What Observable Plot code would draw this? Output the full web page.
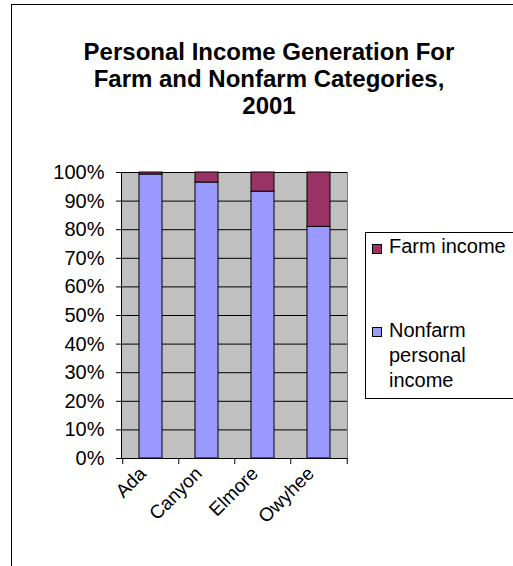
<!DOCTYPE html>
<html>
<head>
<meta charset="utf-8">
<script src="https://cdn.jsdelivr.net/npm/d3@7"></script>
<script src="https://cdn.jsdelivr.net/npm/@observablehq/plot@0.6"></script>
<style>
  html, body { margin: 0; padding: 0; background: #fff; overflow: hidden; }
  #wrap { position: relative; width: 513px; height: 566px; overflow: hidden; font-family: Arial, "Liberation Sans", sans-serif; }
  #frame { position: absolute; left: 11px; top: 4px; width: 600px; height: 700px; border-left: 1px solid #000; border-top: 1px solid #000; box-sizing: border-box; }
  #title { position: absolute; left: 19px; width: 500px; top: 38px; text-align: center; font-weight: bold; font-size: 24px; line-height: 27px; color: #000; }
  #legend { position: absolute; left: 365px; top: 232px; width: 300px; height: 167px; border: 1px solid #000; box-sizing: border-box; background: #fff; font-size: 20px; color: #000; }
  .item { position: absolute; left: 6px; display: flex; }
  .sw { width: 8px; height: 8px; border: 1px solid #000; margin-right: 7px; flex: none; }
  .lab { line-height: 25px; }
  #chart { position: absolute; left: 0; top: 0; }
</style>
</head>
<body>
<div id="wrap">
  <div id="frame"></div>
  <div id="title">Personal Income Generation For<br>Farm and Nonfarm Categories,<br>2001</div>
  <div id="chart"></div>
  <div id="legend"></div>
</div>
<script>
const categories = ["Ada", "Canyon", "Elmore", "Owyhee"];
const nonfarm = [99.3, 96.5, 93.3, 81.0];
const farm = [0.7, 3.5, 6.7, 19.0];
const seriesNames = ["Nonfarm personal income", "Farm income"];
const seriesColors = ["#9999FF", "#993366"];
const yTicks = [0, 10, 20, 30, 40, 50, 60, 70, 80, 90, 100];

const rows = [];
categories.forEach((c, i) => {
  rows.push({county: c, series: seriesNames[0], value: nonfarm[i]});
  rows.push({county: c, series: seriesNames[1], value: farm[i]});
});

const W = 513, H = 566;
const mL = 121, mR = W - 347, mT = 172, mB = H - 458;
const step = (W - mL - mR) / categories.length;

const chart = Plot.plot({
  width: W,
  height: H,
  marginLeft: mL,
  marginRight: mR,
  marginTop: mT,
  marginBottom: mB,
  style: {fontFamily: "Arial, 'Liberation Sans', sans-serif", fontSize: "19px", color: "#000", background: "transparent"},
  x: {domain: categories, paddingInner: 0.59, paddingOuter: 0.295, align: 0.5, label: null},
  y: {domain: [0, 100], label: null},
  color: {domain: seriesNames, range: seriesColors},
  marks: [
    Plot.frame({fill: "#C0C0C0", stroke: "#808080"}),
    Plot.gridY(yTicks, {stroke: "#000", strokeOpacity: 1}),
    Plot.barY(rows, {x: "county", y: "value", fill: "series", stroke: "#000", strokeWidth: 1, order: seriesNames}),
    Plot.frame({anchor: "left", stroke: "#000"}),
    Plot.axisY({ticks: yTicks, tickFormat: d => d + "%", tickSize: 5, tickPadding: 12, fontSize: 20, label: null}),
    Plot.axisX({ticks: categories, tickSize: 6, tickFormat: () => "", dx: -step / 2}),
    Plot.axisX({ticks: categories.slice(-1), tickSize: 6, tickFormat: () => "", dx: step / 2}),
    Plot.axisX({ticks: categories, tickSize: 0, tickRotate: -45, tickPadding: 12, dx: -8, fontSize: 19, label: null})
  ]
});
document.getElementById("chart").appendChild(chart);

const legend = document.getElementById("legend");
const legendItems = [
  {lines: ["Farm income"], color: seriesColors[1], top: 1, swTop: 10},
  {lines: ["Nonfarm", "personal", "income"], color: seriesColors[0], top: 85, swTop: 9}
];
legendItems.forEach(it => {
  const d = document.createElement("div");
  d.className = "item";
  d.style.top = it.top + "px";
  const sw = document.createElement("div");
  sw.className = "sw";
  sw.style.background = it.color;
  sw.style.marginTop = it.swTop + "px";
  const lab = document.createElement("div");
  lab.className = "lab";
  lab.innerHTML = it.lines.join("<br>");
  d.appendChild(sw);
  d.appendChild(lab);
  legend.appendChild(d);
});
</script>
</body>
</html>
